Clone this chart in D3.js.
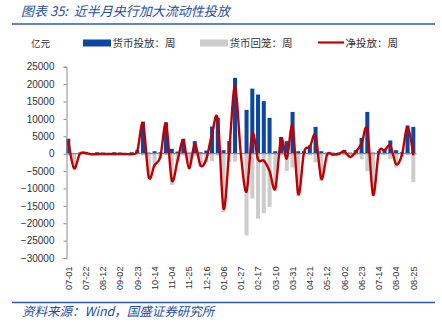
<!DOCTYPE html>
<html><head><meta charset="utf-8">
<script src="https://cdn.jsdelivr.net/npm/d3@7/dist/d3.min.js"></script>
<style>
html,body{margin:0;padding:0;background:#fff;}
svg{display:block;}
</style></head>
<body>
<svg id="c" width="442" height="328"></svg>
<script>
const weeks = ["07-01","07-08","07-15","07-22","07-29","08-05","08-12","08-19","08-26","09-02",
"09-09","09-16","09-23","09-30","10-07","10-14","10-21","10-28","11-04","11-11",
"11-18","11-25","12-02","12-09","12-16","12-23","12-30","01-06","01-13","01-20",
"01-27","02-03","02-10","02-17","02-24","03-03","03-10","03-17","03-24","03-31",
"04-07","04-14","04-21","04-28","05-05","05-12","05-19","05-26","06-02","06-09",
"06-16","06-23","06-30","07-07","07-14","07-21","07-28","08-04","08-11","08-18","08-25"];
const tickLabels = ["07-01","07-22","08-12","09-02","09-23","10-14","11-04","11-25","12-16","01-06",
"01-27","02-17","03-10","03-31","04-21","05-12","06-02","06-23","07-14","08-04","08-25"];
const inject = [4300,0,300,500,200,400,300,200,400,300,
200,400,1000,9200,300,700,400,9000,1400,600,
4300,300,3600,400,900,7800,10300,1000,3600,21800,
0,12600,18700,17000,15100,10300,700,4800,3600,12000,
700,700,2400,7700,700,300,300,300,1100,300,
1000,4500,12000,300,700,1400,3800,1000,400,8100,7700];
const withdraw = [-500,-4200,-400,-300,-400,-500,-400,-300,-500,-400,
-300,-500,-200,-500,-7000,-4000,-1400,-400,-9000,-2600,
-500,-4500,-800,-3800,-2500,-2100,-500,-16800,-2400,-2300,
0,-23500,-12900,-18700,-17100,-15300,-10700,-500,-5000,-4000,
-12300,-300,-500,-2500,-7900,-600,-600,-400,-500,-1300,
-500,-1600,-5000,-12100,-300,-500,-1500,-4000,-900,-400,-8200];
const net = [3800,-4200,-100,200,-200,-100,-100,-100,-100,-100,
-100,-100,800,8700,-6700,-3300,-1000,8600,-7600,-2000,
3800,-4200,2800,-3400,-1600,5700,9800,-15800,1200,19500,
0,-10900,5800,-1700,-2000,-5000,-10000,4300,-1400,8000,
-11600,400,1900,5200,-7200,-300,-300,-100,600,-1000,
500,2900,7000,-11800,400,900,2300,-3000,-500,7700,-500];
const yTicks = [25000,20000,15000,10000,5000,0,-5000,-10000,-15000,-20000,-25000,-30000];
const legendItems = ["货币投放：周","货币回笼：周","净投放：周"];
const unitLabel = "亿元";
const titleText = "图表 35:  近半月央行加大流动性投放";
const sourceText = "资料来源：Wind，国盛证券研究所";

const BLUE = "#0B46A0", GRAY = "#CCCCCC", RED = "#C00000", DEEP = "#2A5BA8";
const numFont = "'Liberation Sans', Arial, sans-serif";
const cjkFont = "'Noto Sans CJK SC', 'Noto Sans', sans-serif";

const svg = d3.select("#c");
const x = d3.scaleBand().domain(d3.range(weeks.length)).range([65.4, 416.2]).paddingInner(0.3).paddingOuter(0.15);
const y = d3.scaleLinear().domain([-30000, 25000]).range([258, 66.7]);
const cx = i => x(i) + x.bandwidth() / 2;

// title
svg.append("text").attr("x", 21).attr("y", 15.5).attr("font-family", cjkFont)
  .attr("font-size", 13).attr("font-style", "italic").attr("fill", "#1F4E9E")
  .attr("xml:space", "preserve").style("white-space", "pre").text(titleText);
svg.append("line").attr("x1", 12).attr("x2", 435).attr("y1", 24).attr("y2", 24)
  .attr("stroke", DEEP).attr("stroke-width", 1.7);

// legend
svg.append("text").attr("x", 31).attr("y", 43.5).attr("dy", "0.35em").attr("font-family", cjkFont)
  .attr("font-size", 9.5).attr("fill", "#333").text(unitLabel);
const lg = svg.append("g").attr("font-family", cjkFont).attr("font-size", 10.5).attr("fill", "#333");
lg.append("rect").attr("x", 83).attr("y", 39.5).attr("width", 28).attr("height", 7).attr("fill", BLUE);
lg.append("text").attr("x", 112.5).attr("y", 43).attr("dy", "0.35em").text(legendItems[0]);
lg.append("rect").attr("x", 200).attr("y", 39.5).attr("width", 28).attr("height", 7).attr("fill", GRAY);
lg.append("text").attr("x", 229.5).attr("y", 43).attr("dy", "0.35em").text(legendItems[1]);
lg.append("line").attr("x1", 318).attr("x2", 344).attr("y1", 42.5).attr("y2", 42.5).attr("stroke", RED).attr("stroke-width", 2.2);
lg.append("text").attr("x", 345.5).attr("y", 43).attr("dy", "0.35em").text(legendItems[2]);

// bars
svg.append("g").selectAll("rect").data(withdraw).join("rect")
  .attr("x", (d, i) => x(i)).attr("width", x.bandwidth())
  .attr("y", d => y(Math.max(0, d))).attr("height", d => Math.abs(y(d) - y(0)))
  .attr("fill", GRAY);
svg.append("g").selectAll("rect").data(inject).join("rect")
  .attr("x", (d, i) => x(i)).attr("width", x.bandwidth())
  .attr("y", d => y(Math.max(0, d))).attr("height", d => Math.abs(y(d) - y(0)))
  .attr("fill", BLUE);

// zero axis
svg.append("line").attr("x1", 66.5).attr("x2", 416.5).attr("y1", y(0)).attr("y2", y(0))
  .attr("stroke", "#8C8C8C").attr("stroke-width", 1.3);

// y axis
const ya = svg.append("g").attr("transform", "translate(66.5,0)")
  .call(d3.axisLeft(y).tickValues(yTicks).tickSize(3).tickPadding(9).tickFormat(d3.format("d")));
ya.select(".domain").attr("stroke", "#8C8C8C");
ya.selectAll(".tick line").attr("stroke", "#8C8C8C");
ya.selectAll("text").attr("font-family", numFont).attr("font-size", 10).attr("fill", "#333");

// x labels
svg.append("g").selectAll("text").data(weeks.map((w, i) => ({w, i})).filter(o => tickLabels.includes(o.w) && (o.i % 3 === 0)))
  .join("text")
  .attr("transform", o => `translate(${cx(o.i)},266.5) rotate(-90)`)
  .attr("text-anchor", "end").attr("dy", "0.35em")
  .attr("font-family", numFont).attr("font-size", 9.2).attr("fill", "#333")
  .text(o => o.w);

// net line
const line = d3.line().x((d, i) => cx(i)).y(d => y(d)).curve(d3.curveCatmullRom.alpha(0));
svg.append("path").datum(net).attr("d", line).attr("fill", "none")
  .attr("stroke", RED).attr("stroke-width", 2.4).attr("stroke-linejoin", "round");

// footer
svg.append("line").attr("x1", 12).attr("x2", 435).attr("y1", 302.5).attr("y2", 302.5)
  .attr("stroke", DEEP).attr("stroke-width", 1.7);
svg.append("text").attr("x", 22).attr("y", 315.5).attr("font-family", cjkFont)
  .attr("font-size", 12.5).attr("font-style", "italic").attr("fill", "#1F4E9E").text(sourceText);
</script>
</body></html>
